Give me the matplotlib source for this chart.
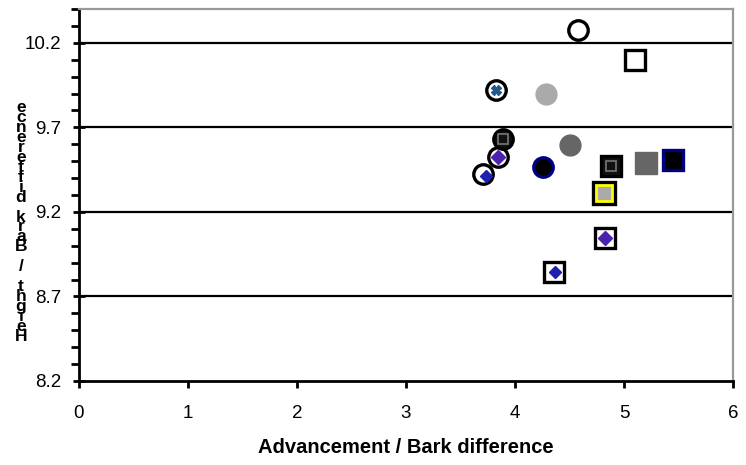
import matplotlib
matplotlib.use("Agg")
import matplotlib.pyplot as plt
from matplotlib.ticker import MultipleLocator

plt.rcParams['font.family'] = ['Liberation Sans', 'DejaVu Sans']

# Open circles (white fill, black ring)
open_circle_x = [4.58, 3.83, 3.84, 3.71]
open_circle_y = [10.276, 9.92, 9.525, 9.424]

# Open squares (white fill, black frame)
open_square_x = [5.10, 4.83, 4.36]
open_square_y = [10.10, 9.045, 8.845]

# Filled circles
light_circle = (4.28, 9.90)
dim_circle = (4.50, 9.595)
navy_circle = (4.26, 9.465)
black_circle = (3.89, 9.63)

# Filled squares
black_square = (4.88, 9.471)
dim_square = (5.20, 9.49)
navy_square = (5.45, 9.507)
yellow_square = (4.82, 9.312)

# Small inner markers
star_pts = [(3.83, 9.92)]
diamond_purple_pts = [(3.84, 9.525), (4.83, 9.045)]
diamond_blue_pts = [(3.73, 9.41), (4.37, 8.845)]
small_square_pts = [(3.89, 9.63), (4.88, 9.471)]

x_ticks = [0, 1, 2, 3, 4, 5, 6]
y_ticks = [8.2, 8.7, 9.2, 9.7, 10.2]
x_label = "Advancement / Bark difference"
y_label = "Height / Bark difference"

W, H = 746, 465
fig = plt.figure(figsize=(W / 100, H / 100), dpi=100)
ax = fig.add_axes([79 / W, 1 - 381 / H, (733 - 79) / W, (381 - 9) / H])

ax.set_xlim(0, 6)
ax.set_ylim(8.2, 10.4)
ax.set_xticks(x_ticks)
ax.set_xticklabels([str(t) for t in x_ticks])
ax.set_yticks(y_ticks)
ax.set_yticklabels([f"{t:.1f}" for t in y_ticks])
ax.yaxis.set_minor_locator(MultipleLocator(0.1))

for t in y_ticks[1:]:
    ax.axhline(t, color='black', lw=1.6, zorder=1)

for side in ('top', 'right'):
    ax.spines[side].set_color('#999999')
    ax.spines[side].set_linewidth(1.6)
for side in ('left', 'bottom'):
    ax.spines[side].set_color('black')
    ax.spines[side].set_linewidth(2)

ax.tick_params(axis='y', which='major', direction='inout', length=9, width=2,
               labelsize=13.5, pad=8)
ax.tick_params(axis='y', which='minor', direction='out', length=6, width=2)
ax.tick_params(axis='x', which='major', direction='out', length=5, width=2,
               labelsize=13.5, pad=12)

ax.set_xlabel(x_label, fontsize=14.5, fontweight='bold', labelpad=12)

ms_c, ms_s = 14, 15
ew = 2.4

ax.plot(open_circle_x, open_circle_y, 'o', ms=ms_c, mfc='white', mec='black', mew=ew, zorder=3)
ax.plot(open_square_x, open_square_y, 's', ms=ms_s, mfc='white', mec='black', mew=ew, zorder=3)

ax.plot(*light_circle, 'o', ms=ms_c + 1, mfc='#aaaaaa', mec='#aaaaaa', mew=1, zorder=3)
ax.plot(*dim_circle, 'o', ms=ms_c + 1, mfc='#666666', mec='#666666', mew=1, zorder=3)
ax.plot(*navy_circle, 'o', ms=ms_c, mfc='black', mec='#000080', mew=ew, zorder=3)
ax.plot(*black_circle, 'o', ms=ms_c, mfc='#111111', mec='black', mew=ew, zorder=3)

ax.plot(*black_square, 's', ms=ms_s, mfc='#111111', mec='black', mew=ew, zorder=3)
ax.plot(*dim_square, 's', ms=ms_s + 1, mfc='#666666', mec='#666666', mew=1, zorder=3)
ax.plot(*navy_square, 's', ms=ms_s, mfc='black', mec='#000080', mew=ew, zorder=3)
ax.plot(*yellow_square, 's', ms=ms_s + 1, mfc='black', mec='black', mew=ew, zorder=3)
ax.plot(*yellow_square, 's', ms=ms_s - 3, mfc='#aaaaaa', mec='#ffff00', mew=2, zorder=4)

sx, sy = zip(*star_pts)
ax.plot(sx, sy, 'X', ms=7, mfc='#1f5a8c', mec='#1f5a8c', zorder=5)
px, py = zip(*diamond_purple_pts)
ax.plot(px, py, 'D', ms=7, mfc='#4b22aa', mec='#4b22aa', zorder=5)
bx, by = zip(*diamond_blue_pts)
ax.plot(bx, by, 'D', ms=6, mfc='#2020b0', mec='#2020b0', zorder=5)
qx, qy = zip(*small_square_pts)
ax.plot(qx, qy, 's', ms=7, mfc='#111111', mec='#777777', mew=1.2, zorder=5)

# Vertical axis title: characters stacked from bottom to top, one text block
stacked = "\n".join(reversed(list(y_label)))
fig.text(21 / W, 1 - 222 / H, stacked, fontsize=12.5, fontweight='bold',
         ha='center', va='center', multialignment='center', linespacing=0.58)

fig.savefig("out.png", dpi=100)
